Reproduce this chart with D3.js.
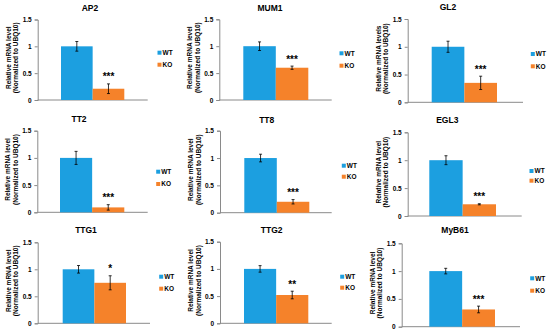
<!DOCTYPE html>
<html><head><meta charset="utf-8">
<script src="https://cdn.jsdelivr.net/npm/d3@7"></script>
<style>html,body{margin:0;padding:0;background:#fff;} svg{display:block;font-family:"Liberation Sans",Arial,sans-serif;}</style>
</head><body>
<svg id="c" width="550" height="330"></svg>
<script>
// ---- data ----
const genes = ["AP2","MUM1","GL2","TT2","TT8","EGL3","TTG1","TTG2","MyB61"];
const groups = ["WT","KO"];
const wtMean = [1,1,1,1,1,1,1,1,1];
const wtErr  = [0.09,0.08,0.10,0.12,0.07,0.08,0.07,0.06,0.05];
const koMean = [0.21,0.60,0.35,0.09,0.20,0.21,0.75,0.52,0.31];
const koErr  = [0.09,0.03,0.12,0.05,0.04,0.01,0.13,0.07,0.06];
const signif = ["***","***","***","***","***","***","*","**","***"];
const yTicks = [0,0.5,1,1.5];
const yTickLabels = ["0","0.5","1","1.5"];
const yTitle1 = ["Relative mRNA level","Relative mRNA level","Relative mRNA levels","Relative mRNA level","Relative mRNA level","Relative mRNA level","Relative mRNA level","Relative mRNA level","Relative mRNA level"];
const yTitle2 = "(Normalized to UBQ10)";

// ---- layout (pixel frames per panel) ----
const frames = [
 {ax:37.7, end:147.7, y0:100,   y15:19.5, b0:61,    b1:124.3, lx:159,   ly:52.7,  ly2:64.7, tx:90,    ty:10.5},
 {ax:219.3,end:331.7, y0:100,   y15:19.3, b0:243.3, b1:308.3, lx:341,   ly:53.3,  ly2:65.7, tx:270,   ty:10.5},
 {ax:407.7,end:523,   y0:102.3, y15:19,   b0:431.7, b1:497,   lx:532.3, ly:54,    ly2:66.3, tx:448,   ty:10},
 {ax:37.3, end:147.7, y0:212.3, y15:130.7,b0:60,    b1:124.3, lx:157.7, ly:171.7, ly2:184,  tx:79,    ty:122},
 {ax:220,  end:331.7, y0:212.7, y15:130.7,b0:244.3, b1:309.3, lx:343.3, ly:165.7, ly2:176.7,tx:266.7, ty:123},
 {ax:407.7,end:521.7, y0:216,   y15:132.3,b0:429.3, b1:496,   lx:531,   ly:171,   ly2:180.7,tx:447.3, ty:123},
 {ax:37.7, end:150,   y0:323.3, y15:242.3,b0:62.7,  b1:126,   lx:160.7, ly:276.7, ly2:288.7,tx:86,    ty:233},
 {ax:220,  end:331.7, y0:323.3, y15:241.7,b0:244,   b1:308.3, lx:341.7, ly:276.7, ly2:287.7,tx:271.7, ty:233},
 {ax:401.7,end:520,   y0:326.7, y15:243.3,b0:429.3, b1:495,   lx:531.7, ly:278.3, ly2:290.7,tx:455,   ty:233}
];
const colors = {WT:"#1c9fe0", KO:"#f5822a"};

const svg = d3.select("#c");
genes.forEach((g,i)=>{
  const f = frames[i];
  const y = d3.scaleLinear().domain([0,1.5]).range([f.y0,f.y15]);
  const x = d3.scaleBand().domain(groups).range([f.b0,f.b1]).padding(0);
  const p = svg.append("g");

  // axes
  const yAx = p.append("g").attr("transform",`translate(${f.ax},0)`)
    .call(d3.axisLeft(y).tickValues(yTicks).tickFormat((d,k)=>yTickLabels[k]).tickSize(3).tickPadding(3));
  yAx.select(".domain").attr("stroke","#8a8a8a").attr("stroke-width",1);
  yAx.selectAll(".tick line").attr("stroke","#8a8a8a");
  yAx.selectAll("text").attr("font-size",6.5).attr("font-weight","bold").attr("fill","#000")
     .style("font-family","'Liberation Sans',Arial,sans-serif");
  p.append("line").attr("x1",f.ax).attr("x2",f.end).attr("y1",f.y0).attr("y2",f.y0)
    .attr("stroke","#8a8a8a").attr("stroke-width",1);

  const vals = [{k:"WT",m:wtMean[i],e:wtErr[i]},{k:"KO",m:koMean[i],e:koErr[i]}];
  p.selectAll("rect.bar").data(vals).join("rect").attr("class","bar")
    .attr("x",d=>x(d.k)).attr("width",x.bandwidth())
    .attr("y",d=>y(d.m)).attr("height",d=>y(0)-y(d.m))
    .attr("fill",d=>colors[d.k]);
  // error bars
  vals.forEach(d=>{
    const cx = x(d.k)+x.bandwidth()/2;
    p.append("line").attr("x1",cx).attr("x2",cx).attr("y1",y(d.m+d.e)).attr("y2",y(Math.max(0,d.m-d.e)))
      .attr("stroke","#000").attr("stroke-width",0.8);
    [d.m+d.e, d.m-d.e].forEach(v=>{
      p.append("line").attr("x1",cx-1.5).attr("x2",cx+1.5).attr("y1",y(v)).attr("y2",y(v))
        .attr("stroke","#000").attr("stroke-width",0.8);
    });
  });
  // significance
  const kx = x("KO")+x.bandwidth()/2;
  p.append("text").attr("x",kx).attr("y",y(koMean[i]+koErr[i])-3.5)
    .attr("text-anchor","middle").attr("font-size",10).attr("font-weight","bold").text(signif[i]);

  // title
  p.append("text").attr("x",f.tx).attr("y",f.ty).attr("text-anchor","middle")
    .attr("font-size",8.5).attr("font-weight","bold").text(g);

  // y title
  const yc = (f.y0+f.y15)/2 - 2;
  [[yTitle1[i],-27],[yTitle2,-19.5]].forEach(([t,dx])=>{
    p.append("text").attr("transform",`translate(${f.ax+dx},${yc}) rotate(-90)`)
      .attr("text-anchor","middle").attr("font-size",6.5).attr("font-weight","bold").text(t);
  });

  // legend
  [[groups[0],f.ly],[groups[1],f.ly2]].forEach(([k,ly])=>{
    p.append("rect").attr("x",f.lx-1.5).attr("y",ly-2).attr("width",4).attr("height",4).attr("fill",colors[k]);
    p.append("text").attr("x",f.lx+3.5).attr("y",ly+2.3).attr("font-size",6.5).attr("font-weight","bold").text(k);
  });
});
</script>
</body></html>
